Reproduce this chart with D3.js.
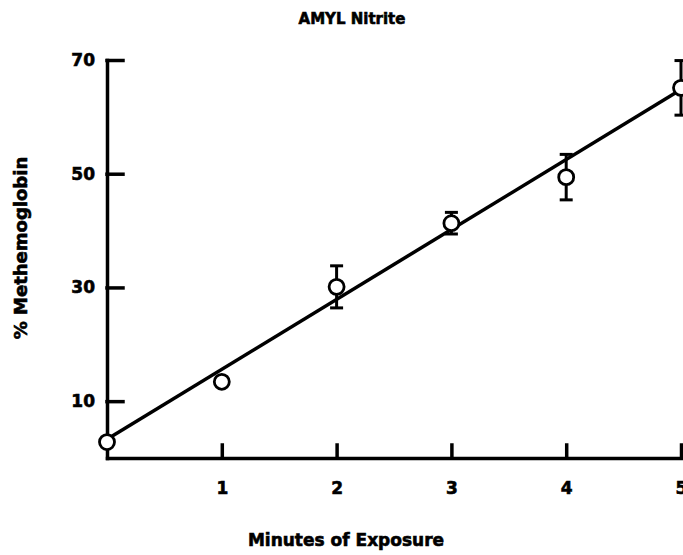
<!DOCTYPE html>
<html>
<meta charset="utf-8">
<head>
<style>
body { margin: 0; background: #fff; }
svg { display: block; }
.axis path, .axis line { fill: none; stroke: #000; stroke-width: 3.5; stroke-linecap: square; }
.axis text, .lbl { font-family: "DejaVu Sans", sans-serif; font-weight: bold; fill: #000; stroke: #000; stroke-width: 0.6px; }
.axis text { font-size: 17px; }
</style>
</head>
<body>
<svg width="683" height="555"></svg>
<script src="https://d3js.org/d3.v7.min.js"></script>
<script>

// data
var minutes = [0, 1, 2, 3, 4, 5];
var methemo = [2.8, 13.4, 30.1, 41.3, 49.4, 65.1];
var errs    = [0, 0, 3.7, 1.9, 4.0, 4.8];
var fitX = [0, 5];
var fitY = [3.3, 64.8];
var xTicks = [1, 2, 3, 4, 5];
var yTicks = [10, 30, 50, 70];

var svg = d3.select("svg");

var x = d3.scaleLinear().domain([0, 5]).range([107, 681]),
    y = d3.scaleLinear().domain([0, 70]).range([458, 60]);

// axes, ticks point inward
var xAxis = d3.axisBottom(x)
  .tickValues(xTicks)
  .tickFormat(d3.format("d"))
  .tickSizeInner(-13)
  .tickSizeOuter(0)
  .tickPadding(24);

var yAxis = d3.axisLeft(y)
  .tickValues(yTicks)
  .tickSizeInner(-16)
  .tickSizeOuter(0)
  .tickPadding(12);

svg.append("g")
  .attr("class", "axis")
  .attr("transform", "translate(0," + y(0) + ")")
  .call(xAxis);

svg.append("g")
  .attr("class", "axis")
  .attr("transform", "translate(" + x(0) + ",0)")
  .call(yAxis);

// regression line
var fit = fitX.map(function(d, i) { return [d, fitY[i]]; });
svg.append("path")
  .datum(fit)
  .attr("fill", "none")
  .attr("stroke", "#000")
  .attr("stroke-width", 3.5)
  .attr("d", d3.line().x(function(d) { return x(d[0]); }).y(function(d) { return y(d[1]); }));

// error bars
var pts = minutes.map(function(m, i) { return {t: m, v: methemo[i], e: errs[i]}; });
var bars = svg.append("g").attr("class", "errbars")
  .selectAll("g")
  .data(pts.filter(function(d) { return d.e > 0; }))
  .enter().append("g")
  .attr("stroke", "#000")
  .attr("stroke-width", 3);

bars.append("line")
  .attr("x1", function(d) { return x(d.t); })
  .attr("x2", function(d) { return x(d.t); })
  .attr("y1", function(d) { return y(d.v + d.e); })
  .attr("y2", function(d) { return y(d.v - d.e); });

[1, -1].forEach(function(s) {
  bars.append("line")
    .attr("x1", function(d) { return x(d.t) - 6.5; })
    .attr("x2", function(d) { return x(d.t) + 6.5; })
    .attr("y1", function(d) { return y(d.v + s * d.e); })
    .attr("y2", function(d) { return y(d.v + s * d.e); });
});

// open circles
svg.append("g")
  .selectAll("circle")
  .data(pts)
  .enter().append("circle")
  .attr("cx", function(d) { return x(d.t); })
  .attr("cy", function(d) { return y(d.v); })
  .attr("r", 7.5)
  .attr("fill", "#fff")
  .attr("stroke", "#000")
  .attr("stroke-width", 2.8);

// titles
svg.append("text")
  .attr("class", "lbl")
  .attr("x", 352).attr("y", 24)
  .attr("text-anchor", "middle")
  .style("font-size", "15px")
  .text("AMYL Nitrite");

svg.append("text")
  .attr("class", "lbl")
  .attr("x", 346).attr("y", 546)
  .attr("text-anchor", "middle")
  .style("font-size", "17px")
  .text("Minutes of Exposure");

svg.append("text")
  .attr("class", "lbl")
  .attr("transform", "translate(27,248) rotate(-90)")
  .attr("text-anchor", "middle")
  .style("font-size", "18px")
  .text("% Methemoglobin");

</script>
</body>
</html>
